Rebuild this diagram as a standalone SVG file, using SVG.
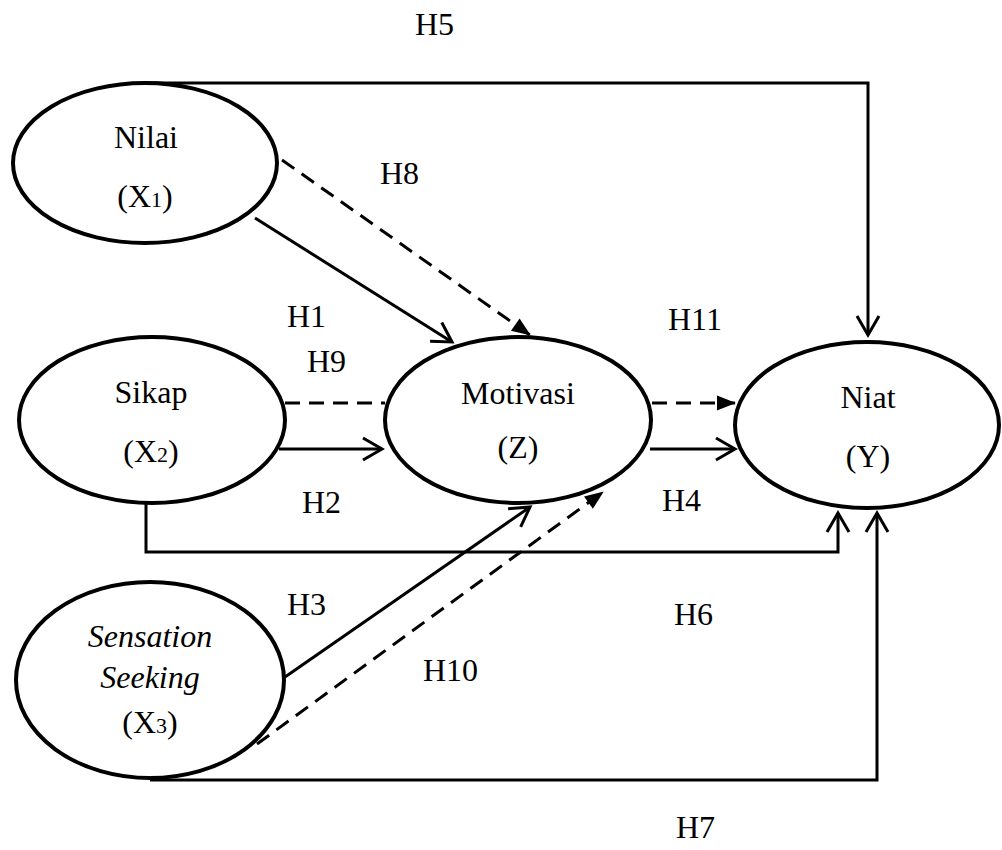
<svg xmlns="http://www.w3.org/2000/svg" width="1002" height="850" viewBox="0 0 1002 850">
<style>
.node ellipse{fill:#fff;stroke:#000;stroke-width:4}
text{font-family:"Liberation Serif",serif;font-size:32px;fill:#000}
.c{text-anchor:middle}
.sub{font-size:22px}
.ln{fill:none;stroke:#000;stroke-width:3}
.dash{stroke-dasharray:15 9}
.solid-arrow{marker-end:url(#open)}
.dash-arrow{marker-end:url(#filled)}
</style>
<defs>
<marker id="filled" markerUnits="userSpaceOnUse" markerWidth="19" markerHeight="15" viewBox="0 0 19 15" refX="18" refY="7.5" orient="auto" overflow="visible">
<path d="M0,0 L19,7.5 L0,15 z" fill="#000"/>
</marker>
<marker id="open" markerUnits="userSpaceOnUse" markerWidth="24" markerHeight="28" viewBox="0 0 24 28" refX="20" refY="14" orient="auto" overflow="visible">
<path d="M1,3 L20,14 L1,25" fill="none" stroke="#000" stroke-width="3"/>
</marker>
</defs>
<rect width="1002" height="850" fill="#fff"/>
<g id="connectors">
<polyline class="ln solid-arrow" points="145,83 868,83 868,335"/>
<line class="ln solid-arrow" x1="255" y1="218" x2="452" y2="342"/>
<line class="ln dash dash-arrow" x1="282" y1="160" x2="530" y2="335"/>
<line class="ln dash" x1="285" y1="403" x2="385" y2="403"/>
<line class="ln solid-arrow" x1="279" y1="449" x2="382" y2="449"/>
<line class="ln dash dash-arrow" x1="652" y1="403" x2="735" y2="403"/>
<line class="ln solid-arrow" x1="650" y1="449" x2="735" y2="449"/>
<polyline class="ln solid-arrow" points="146,503 146,552 838,552 838,513"/>
<polyline class="ln solid-arrow" points="150,780 877,780 877,513"/>
<line class="ln solid-arrow" x1="285" y1="677" x2="530" y2="507"/>
<line class="ln dash dash-arrow" x1="257" y1="744" x2="603" y2="492"/>
</g>
<g id="node-nilai" class="node">
<ellipse cx="145" cy="163" rx="132" ry="80"/>
<text class="c" x="146" y="148">Nilai</text>
<text class="c" x="145" y="207">(X<tspan class="sub">1</tspan>)</text>
</g>
<g id="node-sikap" class="node">
<ellipse cx="152" cy="420" rx="133" ry="83"/>
<text class="c" x="151" y="403">Sikap</text>
<text class="c" x="151" y="462">(X<tspan class="sub">2</tspan>)</text>
</g>
<g id="node-motivasi" class="node">
<ellipse cx="518" cy="420" rx="133" ry="83"/>
<text class="c" x="518" y="404">Motivasi</text>
<text class="c" x="518" y="458">(Z)</text>
</g>
<g id="node-niat" class="node">
<ellipse cx="867" cy="425" rx="132" ry="83"/>
<text class="c" x="868" y="408">Niat</text>
<text class="c" x="868" y="467">(Y)</text>
</g>
<g id="node-sensation" class="node">
<ellipse cx="150" cy="680" rx="134" ry="98"/>
<text class="c" x="150" y="647" font-style="italic">Sensation</text>
<text class="c" x="150" y="688" font-style="italic">Seeking</text>
<text class="c" x="150" y="733">(X<tspan class="sub">3</tspan>)</text>
</g>
<g id="labels">
<text x="415" y="35">H5</text>
<text x="380" y="184">H8</text>
<text x="287" y="327">H1</text>
<text x="307" y="372">H9</text>
<text x="668" y="330">H11</text>
<text x="302" y="513">H2</text>
<text x="662" y="511">H4</text>
<text x="287" y="615">H3</text>
<text x="674" y="625">H6</text>
<text x="423" y="681">H10</text>
<text x="676" y="838">H7</text>
</g>
</svg>
